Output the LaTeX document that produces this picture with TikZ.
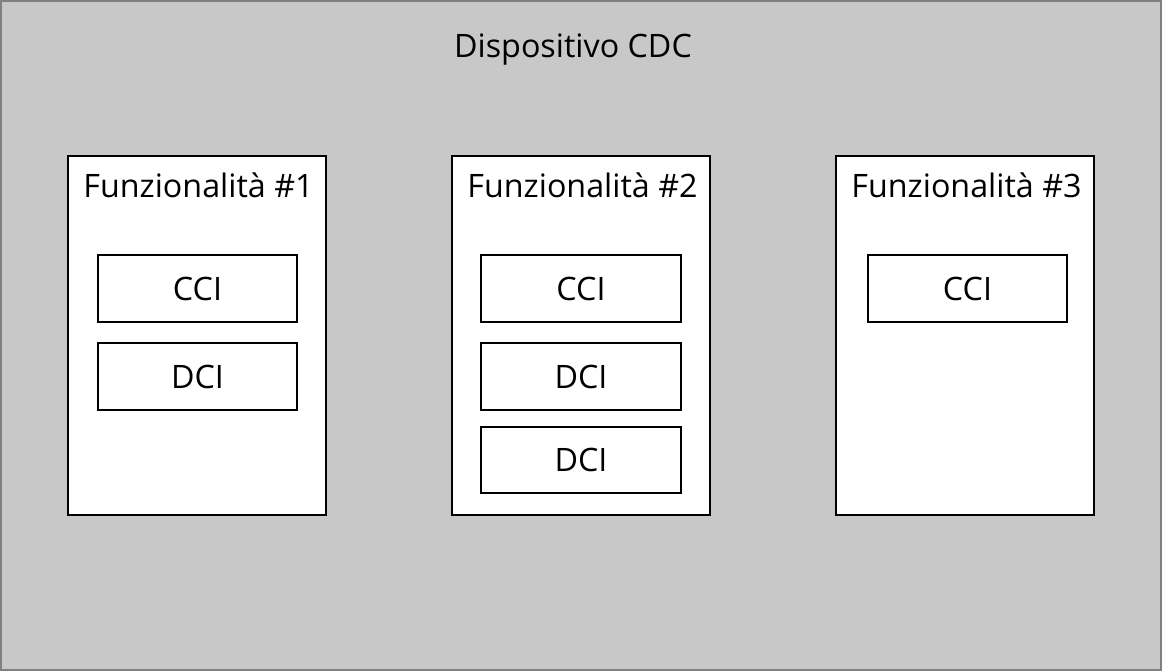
\documentclass[tikz,border=0pt]{standalone}
\usepackage{fontspec}
\setmainfont{Open Sans}
\definecolor{bggray}{HTML}{C8C8C8}
\definecolor{edgegray}{HTML}{808080}
\begin{document}
\begin{tikzpicture}[x=0.75pt,y=-0.75pt,
  funcbox/.style={draw=black,line width=1.5pt,fill=white},
  itembox/.style={draw=black,line width=1.5pt,fill=white},
  lbl/.style={font=\fontsize{24.2}{28}\selectfont,anchor=base,inner sep=0pt}]
\useasboundingbox (0,0) rectangle (1162,671);
\draw[fill=bggray,draw=edgegray,line width=1.5pt] (1,1) rectangle (1161,670);
\node[lbl] (title) at (573,57) {Dispositivo CDC};
% functions
\draw[funcbox] (68,156) rectangle (326,515);
\draw[funcbox] (452,156) rectangle (710,515);
\draw[funcbox] (836,156) rectangle (1094,515);
\node[lbl] (f1) at (198.5,197) {Funzionalità \#1};
\node[lbl] (f2) at (582.5,197) {Funzionalità \#2};
\node[lbl] (f3) at (966.5,197) {Funzionalità \#3};
% items
\draw[itembox] (98,255) rectangle (297,322);
\draw[itembox] (98,343) rectangle (297,410);
\draw[itembox] (481,255) rectangle (681,322);
\draw[itembox] (481,343) rectangle (681,410);
\draw[itembox] (481,427) rectangle (681,493);
\draw[itembox] (868,255) rectangle (1067,322);
\node[lbl] (c1) at (197.5,300) {CCI};
\node[lbl] (d1) at (197.5,388) {DCI};
\node[lbl] (c2) at (581,300) {CCI};
\node[lbl] (d2) at (581,388) {DCI};
\node[lbl] (d3) at (581,471.5) {DCI};
\node[lbl] (c3) at (967.5,300) {CCI};
\end{tikzpicture}
\end{document}
